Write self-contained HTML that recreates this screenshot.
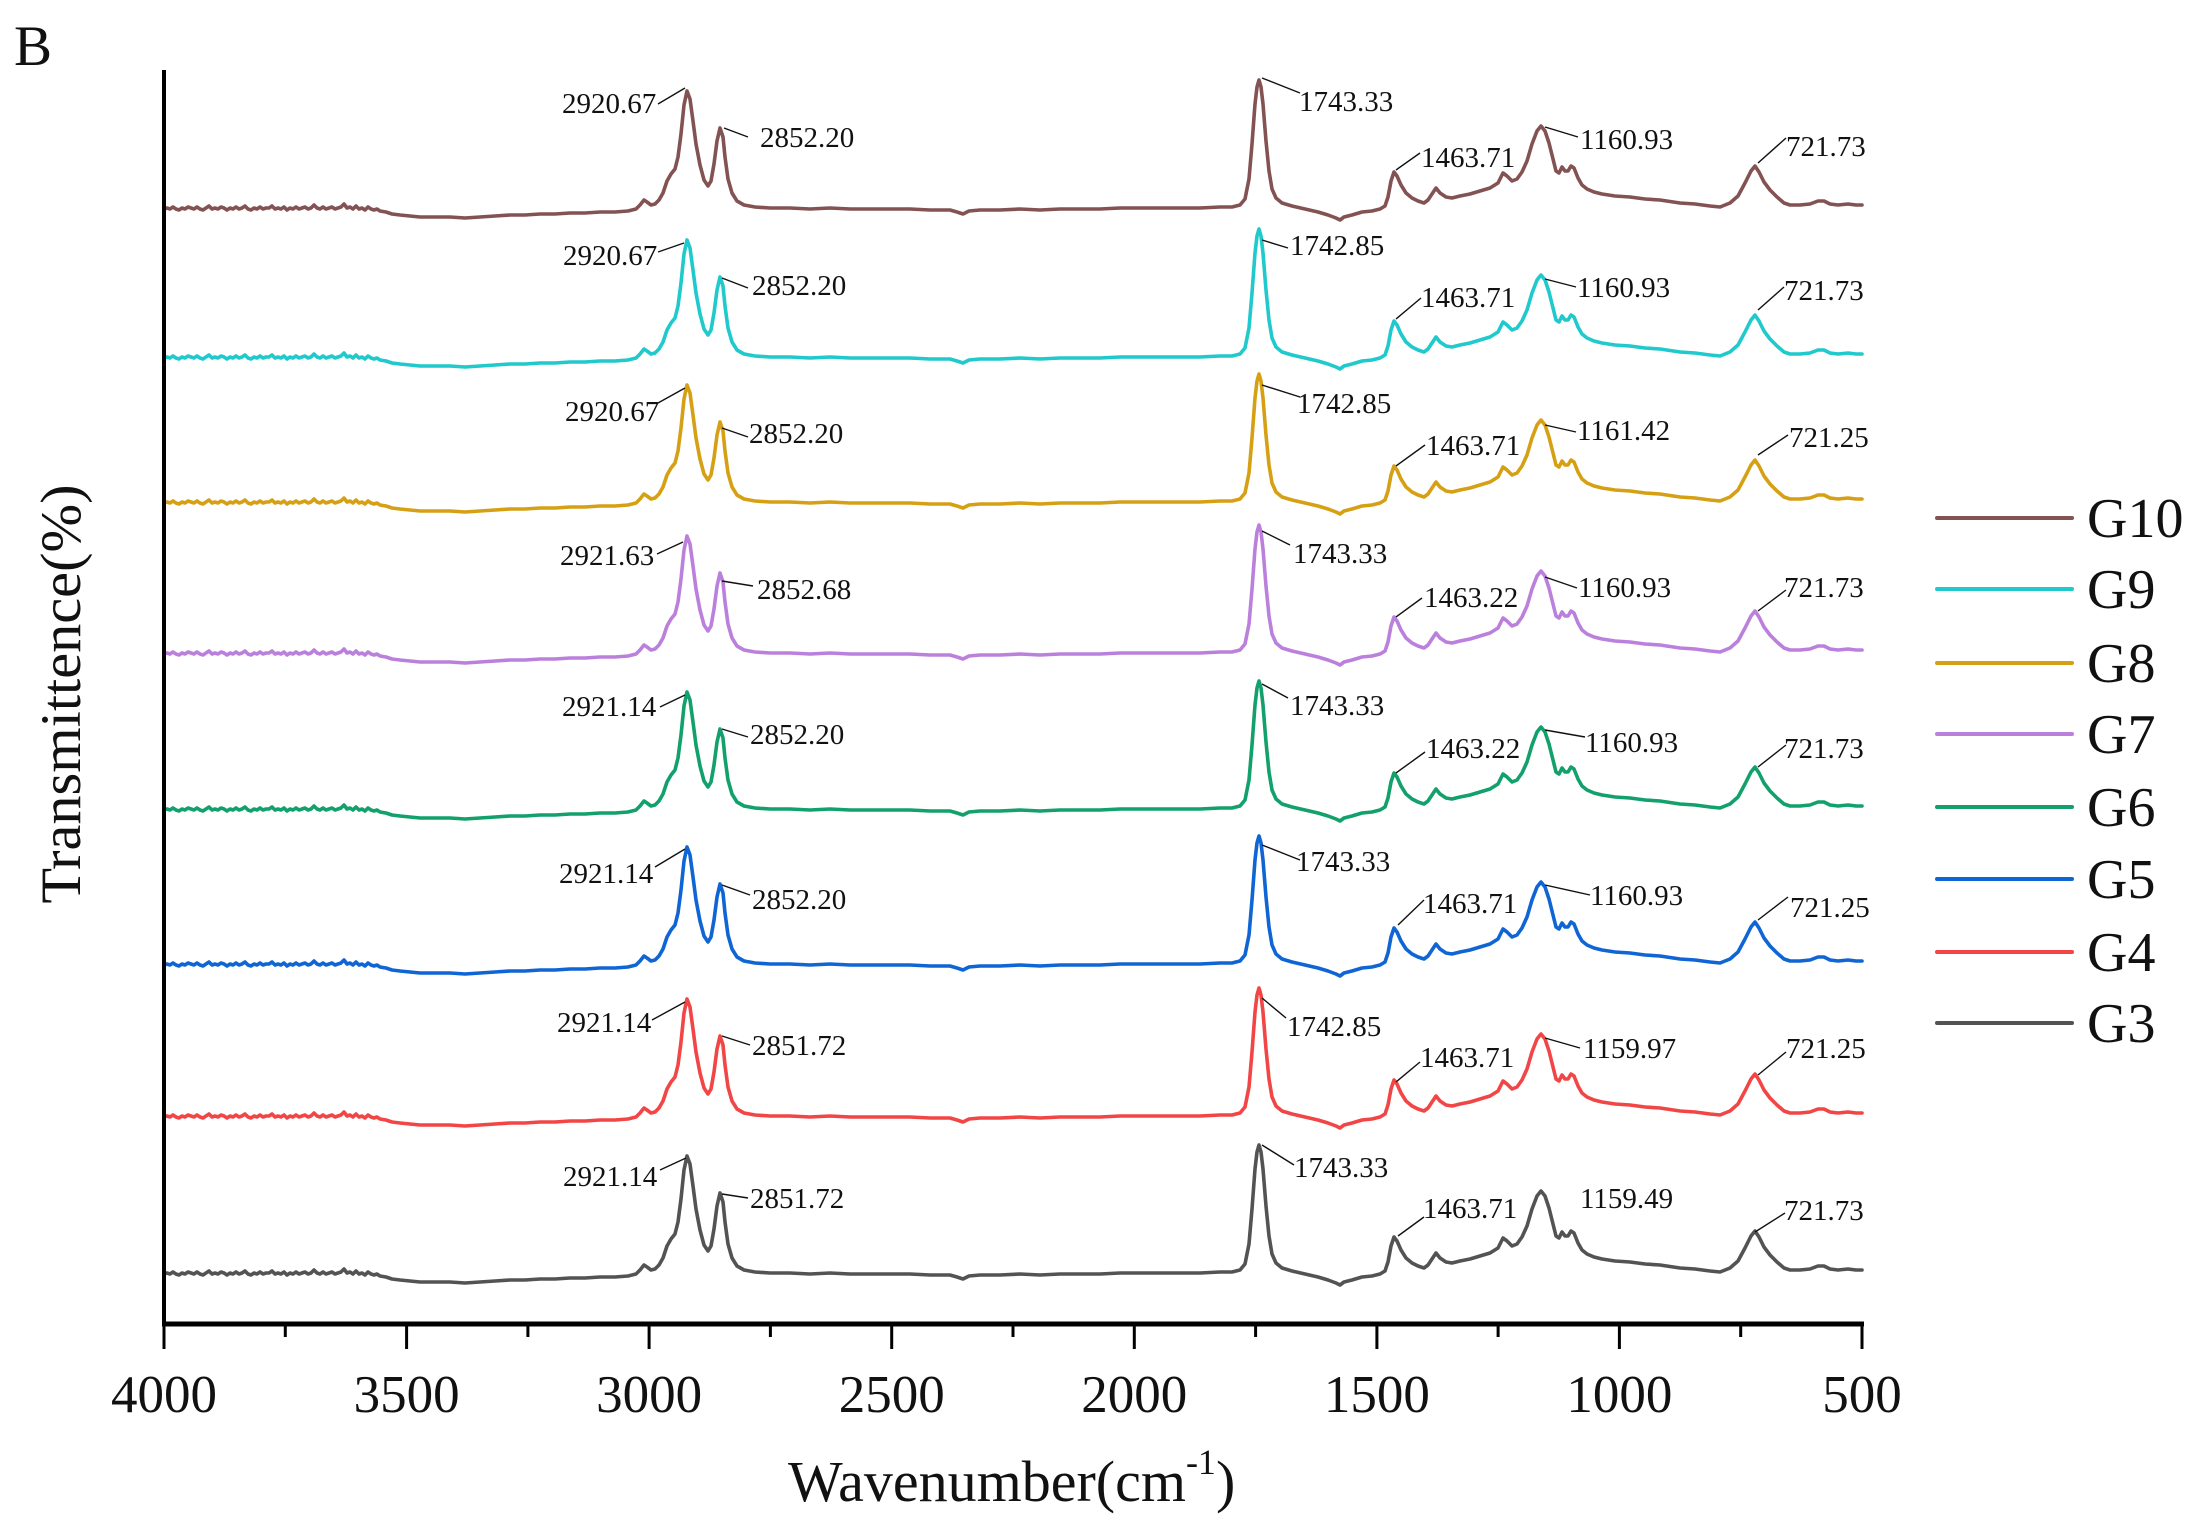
<!DOCTYPE html>
<html><head><meta charset="utf-8"><style>
html,body{margin:0;padding:0;background:#fff;}
svg{display:block;}
text{font-family:"Liberation Serif","Times New Roman",serif;fill:#111;}
.a{font-size:29px;}
.ld{stroke:#111;stroke-width:1.4;fill:none;}
</style></head><body>
<svg width="2205" height="1539" viewBox="0 0 2205 1539" xmlns="http://www.w3.org/2000/svg">
<rect width="2205" height="1539" fill="#fff"/>
<defs>
<path id="sp" fill="none" stroke-width="3.6" stroke-linejoin="round" stroke-linecap="round" d="M164,0 L167,-1 170,0 173,-2 176,0 179,1 182,-1 185,0 188,-2 191,-1 194,0 197,-2 200,0 203,1 206,-1 209,-3 212,0 215,-1 218,0 221,-2 224,-1 227,1 230,-1 233,0 236,-2 239,0 242,-1 245,-3 248,0 251,1 254,-1 257,0 260,-2 263,0 266,-1 269,-1 272,-3 275,0 278,-1 281,0 284,-2 287,1 290,-1 293,0 296,-2 299,0 302,-1 305,-2 308,0 311,-1 314,-4 317,-1 320,0 323,-2 326,0 329,-1 332,-2 335,0 338,-1 341,-2 344,-5 347,-1 350,-2 353,0 356,-3 359,0 362,-1 365,1 368,-2 371,0 374,1 377,0 380,2 386,3 392,5 400,6 410,7 420,8 435,8 450,8 465,9 480,8 495,7 510,6 525,6 540,5 555,5 570,4 585,4 600,3 615,3 628,2 636,0 640,-4 644,-9 647,-7 651,-4 655,-5 659,-9 663,-16 667,-28 671,-35 675,-40 678,-52 681,-75 684,-104 687,-118 690,-110 693,-88 696,-65 700,-44 704,-29 708,-23 711,-28 714,-45 717,-68 720,-81 723,-72 725,-52 728,-30 732,-16 737,-8 744,-4 755,-2 770,-1 790,-1 810,0 830,-1 850,0 870,0 890,0 910,0 930,1 950,1 957,3 963,5 969,2 980,1 1000,1 1020,0 1040,1 1060,0 1080,0 1100,0 1120,-1 1140,-1 1160,-1 1180,-1 1200,-1 1220,-2 1232,-2 1240,-4 1245,-10 1249,-30 1252,-65 1255,-105 1257,-122 1259,-129 1261,-122 1263,-105 1266,-68 1269,-38 1272,-20 1276,-11 1282,-6 1292,-3 1305,0 1318,3 1328,6 1336,9 1340,11 1344,8 1352,6 1362,3 1372,2 1380,0 1385,-3 1388,-12 1391,-28 1394,-37 1397,-33 1401,-24 1406,-16 1412,-11 1418,-8 1424,-6 1428,-9 1432,-15 1436,-21 1440,-16 1446,-12 1452,-11 1460,-13 1470,-15 1480,-18 1490,-21 1498,-26 1503,-36 1507,-33 1512,-28 1517,-30 1522,-37 1527,-48 1532,-65 1537,-78 1541,-83 1545,-78 1549,-66 1553,-50 1556,-38 1559,-36 1562,-42 1565,-38 1568,-38 1571,-43 1574,-41 1578,-31 1582,-24 1587,-20 1594,-17 1602,-15 1615,-13 1630,-12 1645,-10 1660,-9 1680,-6 1695,-5 1710,-3 1720,-2 1730,-6 1738,-13 1745,-26 1751,-38 1755,-43 1759,-37 1764,-27 1770,-19 1777,-12 1784,-6 1790,-4 1800,-4 1810,-5 1818,-8 1824,-8 1830,-5 1838,-4 1848,-5 1856,-4 1862,-4"/>
</defs>

<!-- Panel label -->
<text x="14" y="65" font-size="57">B</text>

<!-- Spectra -->
<use href="#sp" transform="translate(0,209)" stroke="#835253"/>
<use href="#sp" transform="translate(0,358)" stroke="#1fc9cc"/>
<use href="#sp" transform="translate(0,503)" stroke="#d6a015"/>
<use href="#sp" transform="translate(0,654)" stroke="#bb80dc"/>
<use href="#sp" transform="translate(0,810)" stroke="#12a06c"/>
<use href="#sp" transform="translate(0,965)" stroke="#1065d4"/>
<use href="#sp" transform="translate(0,1117)" stroke="#f24646"/>
<use href="#sp" transform="translate(0,1274)" stroke="#535353"/>

<!-- Leaders -->
<g class="ld">
<line x1="658" y1="104" x2="685" y2="88"/><line x1="724" y1="128" x2="748" y2="137"/>
<line x1="1262" y1="78" x2="1300" y2="93"/><line x1="1396" y1="170" x2="1420" y2="153"/>
<line x1="1545" y1="127" x2="1578" y2="137"/><line x1="1758" y1="163" x2="1786" y2="138"/>

<line x1="658" y1="252" x2="684" y2="243"/><line x1="722" y1="278" x2="748" y2="288"/>
<line x1="1262" y1="240" x2="1288" y2="248"/><line x1="1396" y1="319" x2="1421" y2="298"/>
<line x1="1545" y1="279" x2="1576" y2="287"/><line x1="1758" y1="310" x2="1784" y2="287"/>

<line x1="658" y1="403" x2="685" y2="388"/><line x1="722" y1="428" x2="748" y2="437"/>
<line x1="1262" y1="385" x2="1300" y2="397"/><line x1="1396" y1="466" x2="1425" y2="445"/>
<line x1="1545" y1="425" x2="1576" y2="432"/><line x1="1758" y1="455" x2="1788" y2="435"/>

<line x1="657" y1="554" x2="683" y2="542"/><line x1="722" y1="581" x2="753" y2="586"/>
<line x1="1262" y1="531" x2="1290" y2="545"/><line x1="1396" y1="617" x2="1422" y2="598"/>
<line x1="1545" y1="577" x2="1577" y2="588"/><line x1="1758" y1="611" x2="1786" y2="590"/>

<line x1="660" y1="707" x2="685" y2="695"/><line x1="722" y1="729" x2="748" y2="737"/>
<line x1="1262" y1="684" x2="1288" y2="698"/><line x1="1396" y1="773" x2="1425" y2="752"/>
<line x1="1545" y1="730" x2="1585" y2="737"/><line x1="1758" y1="767" x2="1786" y2="745"/>

<line x1="655" y1="867" x2="685" y2="849"/><line x1="722" y1="885" x2="750" y2="895"/>
<line x1="1262" y1="845" x2="1300" y2="860"/><line x1="1398" y1="925" x2="1424" y2="900"/>
<line x1="1545" y1="885" x2="1590" y2="895"/><line x1="1758" y1="920" x2="1788" y2="897"/>

<line x1="652" y1="1020" x2="685" y2="1002"/><line x1="722" y1="1036" x2="750" y2="1045"/>
<line x1="1262" y1="998" x2="1286" y2="1018"/><line x1="1396" y1="1082" x2="1420" y2="1062"/>
<line x1="1545" y1="1038" x2="1580" y2="1048"/><line x1="1758" y1="1075" x2="1786" y2="1052"/>

<line x1="660" y1="1170" x2="686" y2="1158"/><line x1="722" y1="1194" x2="748" y2="1198"/>
<line x1="1262" y1="1145" x2="1294" y2="1165"/><line x1="1398" y1="1236" x2="1424" y2="1217"/>
<line x1="1755" y1="1232" x2="1785" y2="1213"/>
</g>

<!-- Annotations -->
<g class="a">
<text x="562" y="113">2920.67</text><text x="760" y="147">2852.20</text>
<text x="1299" y="111">1743.33</text><text x="1421" y="167">1463.71</text>
<text x="1580" y="149">1160.93</text><text x="1786" y="156">721.73</text>

<text x="563" y="265">2920.67</text><text x="752" y="295">2852.20</text>
<text x="1290" y="255">1742.85</text><text x="1421" y="307">1463.71</text>
<text x="1577" y="297">1160.93</text><text x="1784" y="300">721.73</text>

<text x="565" y="421">2920.67</text><text x="749" y="443">2852.20</text>
<text x="1297" y="413">1742.85</text><text x="1426" y="455">1463.71</text>
<text x="1577" y="440">1161.42</text><text x="1789" y="447">721.25</text>

<text x="560" y="565">2921.63</text><text x="757" y="599">2852.68</text>
<text x="1293" y="563">1743.33</text><text x="1424" y="607">1463.22</text>
<text x="1578" y="597">1160.93</text><text x="1784" y="597">721.73</text>

<text x="562" y="716">2921.14</text><text x="750" y="744">2852.20</text>
<text x="1290" y="715">1743.33</text><text x="1426" y="758">1463.22</text>
<text x="1585" y="752">1160.93</text><text x="1784" y="758">721.73</text>

<text x="559" y="883">2921.14</text><text x="752" y="909">2852.20</text>
<text x="1296" y="871">1743.33</text><text x="1423" y="913">1463.71</text>
<text x="1590" y="905">1160.93</text><text x="1790" y="917">721.25</text>

<text x="557" y="1032">2921.14</text><text x="752" y="1055">2851.72</text>
<text x="1287" y="1036">1742.85</text><text x="1420" y="1067">1463.71</text>
<text x="1583" y="1058">1159.97</text><text x="1786" y="1058">721.25</text>

<text x="563" y="1186">2921.14</text><text x="750" y="1208">2851.72</text>
<text x="1294" y="1177">1743.33</text><text x="1423" y="1218">1463.71</text>
<text x="1580" y="1208">1159.49</text><text x="1784" y="1220">721.73</text>
</g>

<!-- Axes -->
<line x1="164" y1="70" x2="164" y2="1326" stroke="#000" stroke-width="4"/>
<line x1="162" y1="1324" x2="1864" y2="1324" stroke="#000" stroke-width="5"/>
<g stroke="#000" stroke-width="3">
<line x1="164" y1="1324" x2="164" y2="1349"/>
<line x1="285.3" y1="1324" x2="285.3" y2="1337"/>
<line x1="406.6" y1="1324" x2="406.6" y2="1349"/>
<line x1="527.9" y1="1324" x2="527.9" y2="1337"/>
<line x1="649.1" y1="1324" x2="649.1" y2="1349"/>
<line x1="770.4" y1="1324" x2="770.4" y2="1337"/>
<line x1="891.7" y1="1324" x2="891.7" y2="1349"/>
<line x1="1013" y1="1324" x2="1013" y2="1337"/>
<line x1="1134.3" y1="1324" x2="1134.3" y2="1349"/>
<line x1="1255.6" y1="1324" x2="1255.6" y2="1337"/>
<line x1="1376.9" y1="1324" x2="1376.9" y2="1349"/>
<line x1="1498.1" y1="1324" x2="1498.1" y2="1337"/>
<line x1="1619.4" y1="1324" x2="1619.4" y2="1349"/>
<line x1="1740.7" y1="1324" x2="1740.7" y2="1337"/>
<line x1="1862" y1="1324" x2="1862" y2="1349"/>
</g>
<g font-size="53" text-anchor="middle">
<text x="164" y="1412">4000</text>
<text x="406.6" y="1412">3500</text>
<text x="649.1" y="1412">3000</text>
<text x="891.7" y="1412">2500</text>
<text x="1134.3" y="1412">2000</text>
<text x="1376.9" y="1412">1500</text>
<text x="1619.4" y="1412">1000</text>
<text x="1862" y="1412">500</text>
</g>

<!-- Axis titles -->
<text x="788" y="1501" font-size="58">Wavenumber(cm<tspan font-size="36" dy="-27">-1</tspan><tspan dy="27">)</tspan></text>
<text transform="translate(80,694) rotate(-90)" text-anchor="middle" font-size="57" textLength="419" lengthAdjust="spacingAndGlyphs">Transmittence(%)</text>

<!-- Legend -->
<g stroke-width="4" stroke-linecap="round">
<line x1="1937" y1="518" x2="2072" y2="518" stroke="#835253"/>
<line x1="1937" y1="589" x2="2072" y2="589" stroke="#1fc9cc"/>
<line x1="1937" y1="663" x2="2072" y2="663" stroke="#d6a015"/>
<line x1="1937" y1="734" x2="2072" y2="734" stroke="#bb80dc"/>
<line x1="1937" y1="807" x2="2072" y2="807" stroke="#12a06c"/>
<line x1="1937" y1="879" x2="2072" y2="879" stroke="#1065d4"/>
<line x1="1937" y1="952" x2="2072" y2="952" stroke="#f24646"/>
<line x1="1937" y1="1023" x2="2072" y2="1023" stroke="#535353"/>
</g>
<g font-size="56">
<text x="2087" y="537">G10</text>
<text x="2087" y="608">G9</text>
<text x="2087" y="682">G8</text>
<text x="2087" y="753">G7</text>
<text x="2087" y="826">G6</text>
<text x="2087" y="898">G5</text>
<text x="2087" y="971">G4</text>
<text x="2087" y="1042">G3</text>
</g>
</svg>
</body></html>
